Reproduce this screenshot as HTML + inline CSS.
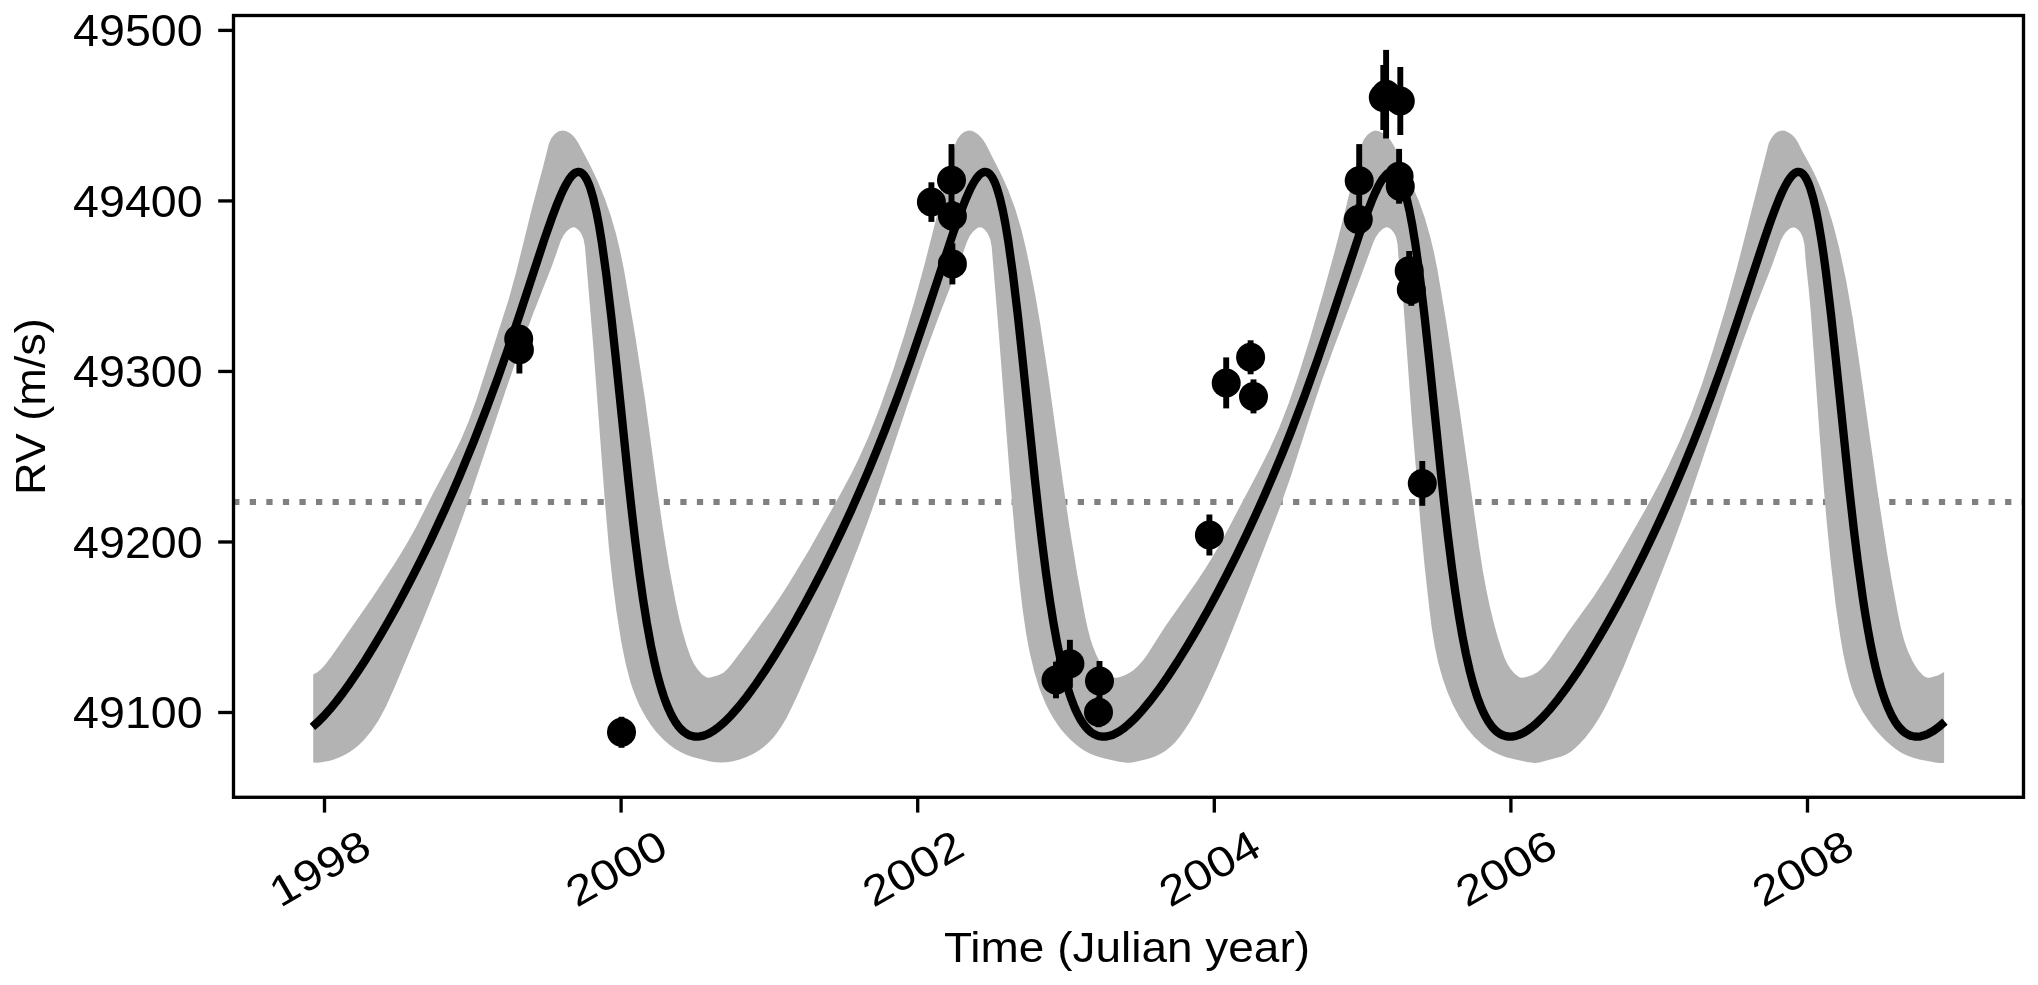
<!DOCTYPE html>
<html><head><meta charset="utf-8"><title>RV</title>
<style>html,body{margin:0;padding:0;background:#fff;}svg{display:block;will-change:transform;}text{font-family:"Liberation Sans",sans-serif;fill:#000;}</style>
</head><body>
<svg width="2038" height="985" viewBox="0 0 2038 985">
<rect width="2038" height="985" fill="#fff"/>
<line x1="233.2" y1="501.9" x2="2023.5" y2="501.9" stroke="#808080" stroke-width="6.0" stroke-dasharray="6.25 10.31"/>
<path d="M313.2,674.5 L317.7,671.9 L321.7,668.4 L325.7,663.9 L331.9,655.7 L373.4,596.0 L394.9,563.3 L405.9,545.2 L415.7,527.8 L433.2,493.1 L453.4,455.1 L460.9,439.7 L468.7,421.3 L476.2,400.7 L508.7,299.3 L516.2,272.0 L531.7,209.2 L543.0,167.1 L549.0,143.3 L551.2,138.4 L554.2,134.5 L558.2,131.6 L560.2,130.9 L562.2,130.6 L565.5,131.1 L569.0,132.6 L572.0,134.8 L575.0,137.9 L578.2,142.8 L589.5,164.1 L597.5,180.7 L604.5,197.7 L610.7,215.6 L616.0,233.7 L620.2,251.3 L624.2,271.0 L635.2,335.7 L645.0,399.2 L657.7,492.8 L663.0,529.2 L669.2,567.7 L675.5,600.9 L679.2,618.2 L682.7,632.2 L686.7,645.8 L690.5,656.4 L693.7,663.4 L697.5,669.3 L702.2,674.5 L706.2,677.3 L708.2,677.7 L710.2,677.6 L718.2,675.3 L723.0,672.9 L727.2,669.2 L731.2,664.5 L746.7,643.9 L769.5,612.5 L779.5,597.9 L789.0,583.2 L809.2,549.7 L840.7,493.6 L850.5,475.2 L858.2,459.7 L869.0,435.7 L879.7,408.2 L892.5,372.0 L904.7,333.9 L914.5,301.0 L924.2,265.7 L955.2,144.2 L957.7,138.6 L961.0,134.5 L963.0,132.8 L965.0,131.6 L967.0,130.9 L969.0,130.6 L971.0,130.8 L973.5,131.6 L976.0,132.9 L978.5,134.7 L982.5,138.9 L986.0,144.5 L1002.2,176.6 L1008.2,189.9 L1015.2,208.7 L1021.5,230.0 L1026.0,248.7 L1030.7,271.3 L1035.5,296.3 L1040.2,323.8 L1048.2,376.0 L1062.5,479.2 L1069.2,525.3 L1077.0,572.8 L1085.2,616.9 L1087.7,628.5 L1090.2,638.2 L1093.0,646.8 L1096.0,654.3 L1099.7,661.9 L1104.0,668.6 L1108.0,673.7 L1111.7,676.8 L1114.7,677.7 L1118.2,677.4 L1123.7,675.8 L1129.2,673.0 L1133.7,669.9 L1138.2,665.8 L1142.5,661.1 L1146.7,655.4 L1165.5,625.9 L1198.0,579.7 L1205.2,568.7 L1212.0,557.8 L1220.0,543.9 L1229.2,526.9 L1259.0,470.3 L1269.0,450.5 L1279.0,428.3 L1288.7,403.3 L1298.5,374.9 L1310.5,336.4 L1323.2,293.0 L1334.7,251.3 L1344.2,214.5 L1357.2,160.9 L1361.5,145.0 L1364.0,139.3 L1367.5,134.7 L1371.5,131.7 L1373.5,130.9 L1375.5,130.6 L1377.7,130.9 L1380.2,131.7 L1382.7,133.1 L1385.7,135.4 L1388.5,138.1 L1391.0,141.1 L1395.2,148.0 L1412.7,186.5 L1418.7,200.7 L1424.7,217.6 L1430.2,236.7 L1434.0,252.6 L1437.5,269.9 L1446.5,323.5 L1459.0,405.8 L1479.2,547.8 L1482.7,569.9 L1486.2,589.3 L1489.7,606.1 L1493.5,621.8 L1497.5,636.4 L1502.0,650.7 L1504.7,658.2 L1507.7,664.5 L1511.0,669.5 L1514.7,673.7 L1518.2,676.6 L1520.0,677.4 L1521.5,677.7 L1525.5,677.2 L1532.2,675.0 L1537.0,672.4 L1541.0,669.2 L1545.2,664.8 L1550.2,658.5 L1568.5,631.4 L1593.5,596.7 L1608.0,574.3 L1621.7,551.1 L1644.0,512.0 L1657.0,488.1 L1667.7,467.1 L1679.7,441.3 L1691.0,414.0 L1702.0,383.9 L1713.2,349.6 L1725.5,308.7 L1737.0,267.6 L1768.7,143.6 L1771.0,138.7 L1774.2,134.5 L1776.2,132.8 L1778.2,131.6 L1780.2,130.9 L1782.2,130.6 L1785.5,131.1 L1789.0,132.7 L1792.5,135.3 L1795.5,138.6 L1798.0,142.6 L1802.2,151.1 L1809.5,164.0 L1814.2,173.3 L1821.2,189.1 L1827.5,206.2 L1833.5,225.8 L1839.2,247.9 L1846.2,280.7 L1853.0,320.0 L1860.2,368.8 L1877.5,491.1 L1887.2,554.1 L1892.5,584.7 L1898.0,614.1 L1901.0,628.5 L1904.0,640.0 L1908.0,651.5 L1912.5,661.1 L1915.2,665.7 L1918.5,670.4 L1921.0,673.3 L1923.7,675.9 L1926.7,677.5 L1928.7,677.8 L1930.7,677.5 L1938.2,675.2 L1944.1,672.1 L1944.1,763.0 L1941.2,763.1 L1938.2,762.9 L1919.5,759.4 L1912.5,757.6 L1907.0,755.5 L1901.7,752.9 L1896.7,749.7 L1891.5,745.8 L1885.5,740.5 L1879.5,734.3 L1873.2,726.9 L1867.5,719.1 L1862.7,711.7 L1858.5,704.1 L1854.7,696.0 L1851.7,688.1 L1849.0,679.0 L1846.0,666.7 L1843.2,653.5 L1840.5,638.1 L1835.7,605.0 L1830.5,560.0 L1827.0,524.9 L1823.5,485.0 L1819.5,433.3 L1811.0,314.8 L1808.7,289.2 L1805.7,261.2 L1804.5,245.2 L1803.0,237.9 L1801.7,234.7 L1800.0,231.8 L1798.2,229.8 L1796.2,228.2 L1794.5,227.4 L1792.7,227.4 L1791.0,227.9 L1789.2,229.0 L1785.7,232.3 L1783.0,236.2 L1780.5,241.5 L1771.7,266.3 L1752.7,314.6 L1739.5,350.5 L1726.0,389.4 L1691.7,491.3 L1681.2,521.0 L1670.5,549.9 L1647.7,607.9 L1624.0,666.0 L1610.0,697.5 L1604.5,708.5 L1599.0,718.2 L1592.5,728.2 L1585.5,737.4 L1578.0,745.5 L1571.5,751.2 L1566.7,754.2 L1561.5,756.5 L1539.2,762.6 L1534.7,763.0 L1527.0,761.9 L1515.5,759.6 L1506.2,757.2 L1499.7,754.8 L1493.7,752.0 L1488.2,748.7 L1482.7,744.7 L1474.5,737.2 L1466.7,728.0 L1459.7,717.6 L1453.2,705.5 L1447.5,692.3 L1442.5,678.1 L1438.2,662.6 L1434.7,646.1 L1431.7,627.5 L1429.0,605.8 L1424.7,566.7 L1420.5,523.2 L1412.0,422.0 L1402.2,287.0 L1401.2,277.4 L1398.7,259.5 L1397.5,244.1 L1396.2,237.8 L1395.2,235.1 L1393.7,232.4 L1391.7,229.9 L1389.7,228.3 L1388.0,227.4 L1386.2,227.3 L1384.5,227.9 L1382.7,229.0 L1379.0,232.6 L1375.7,237.3 L1373.0,243.2 L1360.7,276.8 L1333.7,348.1 L1321.7,381.0 L1312.0,409.9 L1291.2,475.3 L1279.5,508.5 L1239.5,612.2 L1225.5,647.2 L1216.7,667.9 L1208.2,686.8 L1201.2,701.3 L1194.7,713.5 L1189.5,722.4 L1184.2,730.6 L1179.5,737.1 L1175.0,742.4 L1170.2,747.0 L1165.2,751.0 L1160.2,754.1 L1155.0,756.5 L1147.5,758.9 L1134.7,762.0 L1130.2,762.7 L1126.5,762.8 L1119.2,761.8 L1104.5,758.4 L1096.7,756.2 L1090.2,753.7 L1085.0,751.0 L1080.0,747.7 L1075.0,743.8 L1070.0,739.3 L1065.2,734.3 L1060.7,728.9 L1056.5,723.1 L1052.5,716.8 L1048.7,710.1 L1045.5,703.5 L1039.5,688.7 L1034.5,672.6 L1029.7,652.8 L1026.0,632.7 L1022.5,608.6 L1019.5,582.5 L1015.5,542.0 L1009.5,472.5 L998.5,329.4 L991.7,246.9 L990.2,239.3 L987.7,233.5 L985.7,230.7 L983.7,228.8 L981.7,227.6 L980.0,227.3 L978.5,227.6 L976.7,228.5 L972.7,232.0 L969.7,236.1 L967.0,241.8 L958.2,266.6 L938.5,317.3 L924.0,356.8 L908.5,401.6 L877.0,495.6 L868.2,520.4 L859.2,544.7 L837.2,600.9 L816.0,653.1 L799.2,691.5 L791.7,707.6 L786.5,717.9 L782.2,725.3 L778.0,731.6 L773.5,737.4 L768.7,742.5 L763.7,746.9 L758.2,750.9 L752.5,754.3 L746.0,757.3 L739.7,759.6 L733.0,761.3 L726.5,762.3 L720.5,762.6 L716.0,762.3 L710.2,761.4 L699.2,758.8 L691.7,756.7 L685.7,754.5 L680.5,752.1 L675.2,749.0 L670.0,745.3 L665.0,741.1 L660.0,736.1 L655.2,730.7 L650.7,724.7 L646.5,718.3 L642.7,711.8 L639.2,704.9 L636.0,697.5 L633.0,689.7 L630.2,681.3 L625.5,663.1 L621.2,641.5 L616.5,611.7 L612.5,581.1 L609.0,548.4 L604.7,499.0 L593.2,345.3 L585.0,247.0 L583.5,238.9 L581.2,233.6 L579.2,230.8 L577.2,228.9 L575.2,227.6 L573.2,227.3 L571.7,227.7 L570.0,228.6 L566.2,231.8 L563.2,235.9 L560.5,241.6 L552.0,265.8 L533.2,313.4 L519.7,350.0 L505.9,389.7 L472.2,489.9 L462.2,518.3 L452.2,545.5 L438.2,581.9 L422.7,620.4 L394.7,687.1 L386.2,706.1 L378.9,719.7 L371.4,731.1 L363.7,740.3 L359.4,744.4 L355.2,748.0 L350.4,751.4 L345.4,754.4 L340.2,757.0 L334.7,759.2 L328.9,760.9 L322.9,762.1 L317.7,762.7 L313.2,762.5Z" fill="#b3b3b3"/>
<path d="M312.4,726.8 L317.9,722.0 L323.9,716.0 L329.9,709.3 L336.4,701.4 L342.9,692.9 L349.9,683.2 L357.4,672.2 L364.9,660.7 L372.9,647.8 L380.9,634.4 L388.9,620.5 L397.4,605.2 L405.9,589.3 L413.9,573.9 L422.4,557.0 L430.4,540.6 L444.9,509.4 L452.4,492.6 L459.4,476.4 L473.4,442.4 L486.9,407.6 L497.4,379.1 L507.9,349.3 L519.9,313.8 L544.9,237.8 L551.9,217.8 L557.4,203.3 L560.4,196.1 L563.4,189.5 L566.4,183.8 L568.9,179.6 L571.4,176.3 L573.9,173.8 L575.4,172.8 L576.4,172.3 L578.4,171.9 L579.9,172.1 L581.4,172.8 L582.9,174.0 L584.4,175.7 L585.9,178.0 L587.4,180.8 L588.9,184.3 L590.4,188.4 L593.4,198.7 L596.4,211.7 L598.9,224.7 L601.9,243.0 L606.4,275.4 L611.4,317.4 L615.9,359.3 L628.4,480.5 L631.9,512.4 L635.4,542.2 L639.4,573.6 L642.9,598.3 L646.9,623.5 L650.9,645.5 L654.9,664.3 L656.9,672.7 L659.4,682.2 L661.4,689.1 L663.9,696.8 L665.9,702.4 L668.4,708.6 L670.9,714.0 L673.4,718.7 L675.9,722.8 L678.4,726.2 L680.9,729.1 L683.9,731.8 L686.9,733.9 L689.9,735.4 L692.4,736.1 L694.9,736.6 L697.4,736.7 L699.9,736.4 L702.4,735.9 L705.4,735.0 L708.4,733.7 L711.4,732.1 L714.4,730.2 L717.9,727.7 L724.4,722.1 L731.4,715.1 L738.9,706.5 L747.4,695.8 L755.9,684.1 L764.9,670.9 L774.4,656.1 L784.4,639.7 L794.4,622.5 L804.4,604.5 L814.4,585.8 L823.9,567.3 L832.9,549.2 L841.9,530.4 L850.9,510.9 L859.9,490.6 L868.4,470.8 L876.9,450.2 L884.9,430.1 L897.9,395.9 L910.9,359.8 L924.9,318.7 L952.4,235.3 L959.4,215.5 L965.4,200.0 L968.4,193.1 L970.9,187.8 L973.4,183.1 L975.9,179.1 L978.4,175.9 L980.4,173.9 L981.9,172.9 L982.9,172.4 L984.9,171.9 L986.4,172.1 L987.9,172.7 L989.4,173.8 L990.9,175.5 L992.4,177.7 L993.9,180.5 L995.4,183.9 L996.9,188.0 L999.9,198.1 L1002.9,211.0 L1005.4,223.9 L1008.4,242.0 L1012.9,274.2 L1017.9,316.1 L1022.4,357.9 L1034.9,479.2 L1038.4,511.1 L1041.9,541.0 L1045.9,572.5 L1049.9,600.7 L1053.4,622.6 L1057.4,644.7 L1061.4,663.7 L1065.4,679.8 L1069.4,693.4 L1071.4,699.3 L1073.9,705.8 L1075.9,710.5 L1078.4,715.7 L1080.9,720.2 L1083.4,724.0 L1085.9,727.2 L1088.4,729.9 L1090.9,732.1 L1093.9,734.1 L1096.4,735.3 L1098.9,736.1 L1101.4,736.5 L1103.9,736.7 L1106.4,736.5 L1109.4,735.8 L1112.4,734.9 L1115.4,733.5 L1118.4,731.9 L1121.4,730.0 L1124.4,727.8 L1127.9,724.9 L1134.9,718.4 L1142.4,710.2 L1150.4,700.5 L1158.9,689.3 L1167.9,676.4 L1177.4,661.9 L1187.4,645.8 L1197.4,628.9 L1207.4,611.2 L1217.9,591.8 L1227.4,573.5 L1236.9,554.6 L1246.4,534.9 L1255.4,515.6 L1264.4,495.5 L1273.4,474.7 L1281.9,454.3 L1290.4,433.1 L1303.9,397.7 L1317.4,360.2 L1331.4,319.2 L1358.9,235.8 L1365.9,215.9 L1371.9,200.4 L1374.9,193.4 L1377.9,187.1 L1380.4,182.5 L1382.9,178.6 L1385.4,175.5 L1387.4,173.6 L1388.9,172.7 L1389.9,172.2 L1391.9,171.9 L1393.4,172.2 L1394.9,172.9 L1396.4,174.2 L1397.9,176.0 L1399.4,178.3 L1400.9,181.3 L1402.4,184.8 L1403.9,189.1 L1406.9,199.5 L1409.9,212.7 L1412.4,225.9 L1415.4,244.3 L1419.9,277.0 L1424.9,319.3 L1429.4,361.3 L1440.9,473.1 L1444.4,505.3 L1447.9,535.7 L1451.9,567.6 L1455.4,592.9 L1458.9,615.7 L1462.4,636.0 L1465.9,653.9 L1469.9,671.5 L1473.4,684.7 L1477.4,697.4 L1481.4,707.9 L1483.4,712.4 L1485.9,717.3 L1487.9,720.8 L1490.4,724.5 L1492.4,727.1 L1494.9,729.8 L1497.4,732.0 L1499.9,733.7 L1502.4,735.0 L1504.9,735.9 L1507.4,736.5 L1510.4,736.7 L1512.9,736.5 L1515.9,735.9 L1518.9,734.9 L1521.9,733.6 L1524.9,732.0 L1528.4,729.7 L1531.9,727.1 L1535.4,724.2 L1542.4,717.5 L1550.4,708.7 L1558.4,698.8 L1567.4,686.7 L1576.9,672.9 L1586.9,657.4 L1597.4,640.2 L1607.9,622.1 L1618.4,603.2 L1626.9,587.3 L1635.4,570.9 L1643.9,553.9 L1651.9,537.3 L1659.9,520.3 L1667.9,502.6 L1675.9,484.4 L1683.4,466.7 L1692.9,443.5 L1701.9,420.6 L1710.9,396.7 L1719.9,371.9 L1727.9,349.1 L1736.4,324.1 L1764.9,237.7 L1770.9,220.4 L1775.9,207.0 L1779.4,198.3 L1782.4,191.5 L1785.4,185.5 L1788.4,180.3 L1790.9,176.8 L1793.4,174.2 L1794.9,173.0 L1795.9,172.5 L1797.4,172.0 L1798.4,171.9 L1799.9,172.1 L1801.4,172.8 L1802.9,174.0 L1804.4,175.8 L1805.9,178.1 L1807.4,181.0 L1808.9,184.5 L1810.4,188.6 L1813.4,198.9 L1815.9,209.6 L1818.4,222.3 L1821.4,240.1 L1823.4,253.5 L1825.9,271.9 L1830.9,313.5 L1835.4,355.1 L1849.4,490.3 L1853.9,530.2 L1857.9,562.6 L1862.9,598.7 L1865.4,614.8 L1867.9,629.6 L1870.4,643.2 L1872.9,655.5 L1875.4,666.7 L1878.4,678.7 L1881.4,689.3 L1884.9,699.8 L1887.9,707.5 L1891.4,715.1 L1894.9,721.3 L1898.4,726.3 L1901.9,730.1 L1903.9,731.9 L1905.9,733.3 L1907.9,734.5 L1909.9,735.4 L1911.9,736.0 L1914.4,736.5 L1916.4,736.7 L1918.9,736.6 L1920.9,736.3 L1923.4,735.6 L1925.9,734.8 L1928.4,733.7 L1933.4,730.8 L1938.9,726.8 L1944.9,721.6" fill="none" stroke="#000" stroke-width="8.33" stroke-linejoin="round" stroke-linecap="butt"/>
<g fill="#000"><rect x="516.45" y="325.90" width="5.9" height="47.60"/><rect x="618.55" y="716.80" width="5.9" height="31.00"/><rect x="928.45" y="182.30" width="5.9" height="39.60"/><rect x="948.55" y="144.10" width="5.9" height="72.20"/><rect x="949.45" y="201.10" width="5.9" height="30.00"/><rect x="949.45" y="243.40" width="5.9" height="41.00"/><rect x="1053.05" y="661.70" width="5.9" height="36.60"/><rect x="1066.95" y="639.80" width="5.9" height="48.00"/><rect x="1096.55" y="661.00" width="5.9" height="40.00"/><rect x="1095.55" y="697.20" width="5.9" height="30.00"/><rect x="1206.45" y="514.50" width="5.9" height="41.00"/><rect x="1223.25" y="357.40" width="5.9" height="51.00"/><rect x="1247.65" y="340.30" width="5.9" height="34.00"/><rect x="1250.55" y="379.40" width="5.9" height="34.00"/><rect x="1380.35" y="65.00" width="5.9" height="65.00"/><rect x="1383.15" y="49.90" width="5.9" height="88.60"/><rect x="1397.35" y="67.00" width="5.9" height="68.00"/><rect x="1356.25" y="144.10" width="5.9" height="73.20"/><rect x="1355.35" y="204.40" width="5.9" height="30.00"/><rect x="1396.15" y="148.90" width="5.9" height="54.80"/><rect x="1397.35" y="171.40" width="5.9" height="30.00"/><rect x="1406.25" y="251.00" width="5.9" height="39.40"/><rect x="1408.35" y="273.60" width="5.9" height="32.20"/><rect x="1419.35" y="461.00" width="5.9" height="44.80"/><circle cx="518.7" cy="338.9" r="14.5"/><circle cx="519.4" cy="349.7" r="14.5"/><circle cx="621.5" cy="732.3" r="14.5"/><circle cx="931.4" cy="202.1" r="14.5"/><circle cx="951.5" cy="180.2" r="14.5"/><circle cx="952.4" cy="216.1" r="14.5"/><circle cx="952.4" cy="263.9" r="14.5"/><circle cx="1056.0" cy="680.0" r="14.5"/><circle cx="1069.9" cy="663.8" r="14.5"/><circle cx="1099.5" cy="681.0" r="14.5"/><circle cx="1098.5" cy="712.2" r="14.5"/><circle cx="1209.4" cy="535.0" r="14.5"/><circle cx="1226.2" cy="382.9" r="14.5"/><circle cx="1250.6" cy="357.3" r="14.5"/><circle cx="1253.5" cy="396.4" r="14.5"/><circle cx="1383.3" cy="97.5" r="14.5"/><circle cx="1386.1" cy="94.2" r="14.5"/><circle cx="1400.3" cy="101.0" r="14.5"/><circle cx="1359.2" cy="180.7" r="14.5"/><circle cx="1358.3" cy="219.4" r="14.5"/><circle cx="1399.1" cy="176.3" r="14.5"/><circle cx="1400.3" cy="186.4" r="14.5"/><circle cx="1409.2" cy="270.7" r="14.5"/><circle cx="1411.3" cy="289.7" r="14.5"/><circle cx="1422.3" cy="483.4" r="14.5"/></g>
<g stroke="#000" stroke-width="3.33"><line x1="218.20" y1="712.50" x2="233.5" y2="712.50"/><line x1="218.20" y1="541.98" x2="233.5" y2="541.98"/><line x1="218.20" y1="371.45" x2="233.5" y2="371.45"/><line x1="218.20" y1="200.93" x2="233.5" y2="200.93"/><line x1="218.20" y1="30.40" x2="233.5" y2="30.40"/><line x1="324.50" y1="797.3" x2="324.50" y2="812.60"/><line x1="621.10" y1="797.3" x2="621.10" y2="812.60"/><line x1="917.70" y1="797.3" x2="917.70" y2="812.60"/><line x1="1214.30" y1="797.3" x2="1214.30" y2="812.60"/><line x1="1510.90" y1="797.3" x2="1510.90" y2="812.60"/><line x1="1807.50" y1="797.3" x2="1807.50" y2="812.60"/></g>
<rect x="233.5" y="15.5" width="1790.0" height="781.8" fill="none" stroke="#000" stroke-width="3.33" stroke-linejoin="miter"/>
<text x="202.6" y="728.40" text-anchor="end" font-size="44.0" textLength="129.5" lengthAdjust="spacingAndGlyphs">49100</text><text x="202.6" y="557.88" text-anchor="end" font-size="44.0" textLength="129.5" lengthAdjust="spacingAndGlyphs">49200</text><text x="202.6" y="387.35" text-anchor="end" font-size="44.0" textLength="129.5" lengthAdjust="spacingAndGlyphs">49300</text><text x="202.6" y="216.83" text-anchor="end" font-size="44.0" textLength="129.5" lengthAdjust="spacingAndGlyphs">49400</text><text x="202.6" y="46.30" text-anchor="end" font-size="44.0" textLength="129.5" lengthAdjust="spacingAndGlyphs">49500</text><text transform="translate(319.50,868.00) rotate(-30)" text-anchor="middle" font-size="42.5" textLength="108" lengthAdjust="spacingAndGlyphs" dy="15">1998</text><text transform="translate(616.10,868.00) rotate(-30)" text-anchor="middle" font-size="42.5" textLength="108" lengthAdjust="spacingAndGlyphs" dy="15">2000</text><text transform="translate(912.70,868.00) rotate(-30)" text-anchor="middle" font-size="42.5" textLength="108" lengthAdjust="spacingAndGlyphs" dy="15">2002</text><text transform="translate(1209.30,868.00) rotate(-30)" text-anchor="middle" font-size="42.5" textLength="108" lengthAdjust="spacingAndGlyphs" dy="15">2004</text><text transform="translate(1505.90,868.00) rotate(-30)" text-anchor="middle" font-size="42.5" textLength="108" lengthAdjust="spacingAndGlyphs" dy="15">2006</text><text transform="translate(1802.50,868.00) rotate(-30)" text-anchor="middle" font-size="42.5" textLength="108" lengthAdjust="spacingAndGlyphs" dy="15">2008</text><text x="1127.0" y="962" text-anchor="middle" font-size="42.5" textLength="366" lengthAdjust="spacingAndGlyphs">Time (Julian year)</text><text transform="translate(44.8,406.6) rotate(-90)" text-anchor="middle" font-size="42.5" textLength="177" lengthAdjust="spacingAndGlyphs">RV (m/s)</text>
</svg>
</body></html>
